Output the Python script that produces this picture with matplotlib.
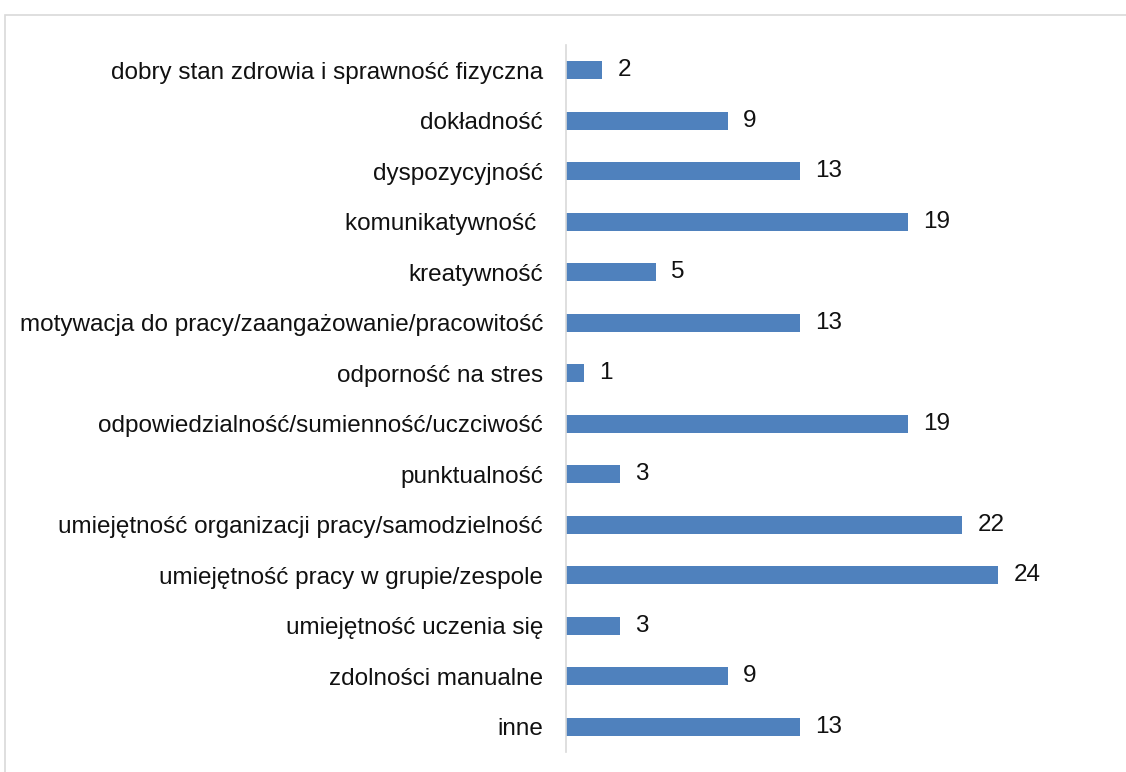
import matplotlib
matplotlib.use("Agg")
import matplotlib.pyplot as plt
from matplotlib.patches import Rectangle

plt.rcParams['font.family'] = ['Liberation Sans', 'DejaVu Sans']

# data
categories = [
    "dobry stan zdrowia i sprawność fizyczna",
    "dokładność",
    "dyspozycyjność",
    "komunikatywność ",
    "kreatywność",
    "motywacja do pracy/zaangażowanie/pracowitość",
    "odporność na stres",
    "odpowiedzialność/sumienność/uczciwość",
    "punktualność",
    "umiejętność organizacji pracy/samodzielność",
    "umiejętność pracy w grupie/zespole",
    "umiejętność uczenia się",
    "zdolności manualne",
    "inne",
]
values = [2, 9, 13, 19, 5, 13, 1, 19, 3, 22, 24, 3, 9, 13]

W, H = 1126, 772
fig = plt.figure(figsize=(W / 100, H / 100), dpi=100)

# light frame around chart area
fig.patches.append(Rectangle((5 / W, -0.1), 1.2, 1.1 - 15 / H,
                             transform=fig.transFigure, fill=False,
                             edgecolor='#d9d9d9', linewidth=1.2))

ax = fig.add_axes([566 / W, 1 - 752 / H, 540 / W, 707 / H])
pos = list(range(len(categories)))
ax.barh(pos, values, height=0.36, color='#4f81bd')
for p, v in zip(pos, values):
    ax.text(v + 0.85, p, str(v), va='center', ha='left', fontsize=17.5, color='#111111')

ax.set_xlim(0, 30)
ax.set_ylim(len(categories) - 0.5, -0.5)
ax.set_yticks(pos)
ax.set_yticklabels(categories, fontsize=17.5, color='#111111')
ax.tick_params(axis='y', length=0, pad=16.5)
ax.set_xticks([])
for s in ['top', 'right', 'bottom']:
    ax.spines[s].set_visible(False)
ax.spines['left'].set_color('#d9d9d9')
ax.spines['left'].set_linewidth(1.2)

fig.savefig("out.png", dpi=100)
